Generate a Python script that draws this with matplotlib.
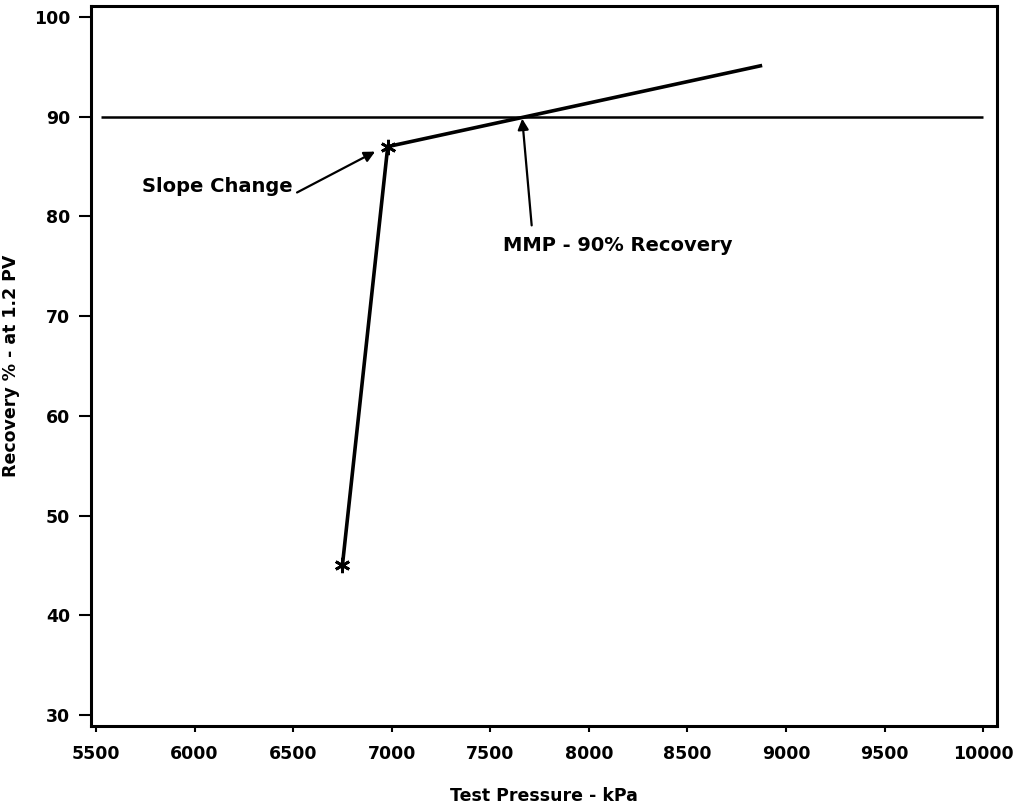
import matplotlib
matplotlib.use('Agg')
import matplotlib.pyplot as plt

# data
pressure = [6750, 6980, 8870]
recovery = [45.0, 87.0, 95.1]
marked_pressure = [6750, 6980]
marked_recovery = [45.0, 87.0]
target_recovery = 90
target_span = [5525, 10000]

x_ticks = [5500, 6000, 6500, 7000, 7500, 8000, 8500, 9000, 9500, 10000]
y_ticks = [30, 40, 50, 60, 70, 80, 90, 100]

plt.rcParams['font.family'] = ['DejaVu Sans']
plt.rcParams['font.weight'] = 'bold'

fig = plt.figure(figsize=(10.21, 8.07), dpi=100)
ax = fig.add_axes([91/1021, 1 - 726/807, (997-91)/1021, (726-6)/807])

ax.hlines(target_recovery, target_span[0], target_span[1], color='black', lw=1.8)
ax.plot(pressure, recovery, color='black', lw=2.6)
ax.plot(marked_pressure, marked_recovery, ls='none', marker=(6, 2, 0),
        markersize=11, mew=2, color='black')

arrow = dict(arrowstyle='-|>', color='black', lw=1.6, mutation_scale=16,
             shrinkA=0, shrinkB=0)
ax.text(6500, 83.0, 'Slope Change', ha='right', va='center',
        fontsize=14, fontweight='bold')
ax.annotate('', xy=(6916, 86.5), xytext=(6520, 82.4), arrowprops=arrow)
ax.text(7566, 78.0, 'MMP - 90% Recovery', ha='left', va='top',
        fontsize=14, fontweight='bold')
ax.annotate('', xy=(7662, 89.8), xytext=(7710, 79.1), arrowprops=arrow)

ax.set_xlim(5475, 10070)
ax.set_ylim(28.9, 101.1)
ax.set_xticks(x_ticks)
ax.set_yticks(y_ticks)
ax.tick_params(axis='both', labelsize=12.5, width=1.5, direction='out')
ax.tick_params(axis='y', length=9, pad=6)
ax.tick_params(axis='x', length=4, pad=10)
for lab in ax.get_xticklabels() + ax.get_yticklabels():
    lab.set_fontweight('bold')
for s in ax.spines.values():
    s.set_linewidth(2.2)

ax.set_xlabel('Test Pressure - kPa', fontsize=12.5, fontweight='bold', labelpad=17)
ax.set_ylabel('Recovery % - at 1.2 PV', fontsize=12.5, fontweight='bold', labelpad=10)

fig.savefig('out.png', dpi=100)
